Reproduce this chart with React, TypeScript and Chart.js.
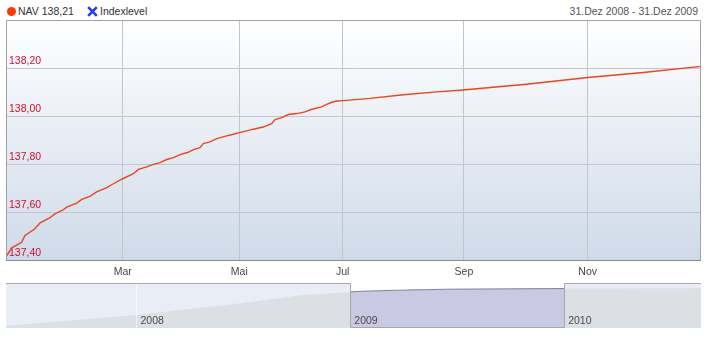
import React, { useEffect, useRef } from "react";
import { Chart, registerables } from "chart.js";
Chart.register(...registerables);

// ---- Main series (NAV 2009), x = day position on the axis (0 = 31.Dez 2008, 365 = 31.Dez 2009)
const navDays = [
  0, 3.0, 8.2, 10.0, 15.2, 17.9, 23.1, 25.7, 30.1, 31.9, 37.1, 39.8, 44.1, 47.6, 52.9, 55.5,
  61.3, 66.9, 69.5, 73.9, 77.4, 80.9, 84.4, 87.9, 91.4, 95.7, 98.4, 101.9, 103.6, 107.1,
  110.7, 115.9, 119.4, 122.5, 126.4, 129.9, 135.1, 139.5, 141.3, 144.8, 148.3, 152.7, 157.0,
  160.6, 165.8, 168.4, 171.1, 173.7, 177.1, 191.2, 208.7, 226.2, 238.4, 273.4, 305.5, 334.7, 365,
];
const navValues = [
  137.415, 137.453, 137.476, 137.504, 137.532, 137.557, 137.578, 137.594, 137.611, 137.622,
  137.639, 137.654, 137.667, 137.685, 137.703, 137.715, 137.74, 137.761, 137.779, 137.789,
  137.8, 137.807, 137.82, 137.828, 137.84, 137.85, 137.861, 137.869, 137.886, 137.893,
  137.907, 137.918, 137.925, 137.932, 137.939, 137.946, 137.955, 137.969, 137.986, 137.994,
  138.007, 138.011, 138.018, 138.029, 138.039, 138.049, 138.058, 138.063, 138.065, 138.074,
  138.089, 138.101, 138.108, 138.133, 138.161, 138.182, 138.207,
];
const monthTickDays = [61.3, 122.5, 176.8, 240.5, 305.5];
const monthLabels = ["Mar", "Mai", "Jul", "Sep", "Nov"];
const yTickValues = [137.4, 137.6, 137.8, 138.0, 138.2];
const yMin = 137.398;
const yMax = 138.4;

// ---- Navigator (years)
const navigatorYears2008 = [2007.39, 2008.0, 2008.49, 2008.77, 2009.0];
const navigatorValues2008 = [129.45, 132.03, 134.77, 136.64, 137.41];
const navigatorYears2010 = [2010.0, 2010.64];
const navigatorValues2010 = [138.21, 138.28];
const yearLines = [2008, 2009, 2010];
const yearLabels = ["2008", "2009", "2010"];
const selectedRange = [2009, 2010];
const navXMin = 2007.39;
const navXMax = 2010.64;
const navYMin = 129.0;
const navYMax = 139.5;

const FONT = "'Liberation Sans', Arial, sans-serif";

const plotDecor = {
  id: "plotDecor",
  beforeDraw(chart: any) {
    const { ctx, chartArea: a } = chart;
    const g = ctx.createLinearGradient(0, a.top, 0, a.bottom);
    g.addColorStop(0, "#ffffff");
    g.addColorStop(1, "#cfdae9");
    ctx.save();
    ctx.fillStyle = g;
    ctx.fillRect(a.left, a.top, a.right - a.left, a.bottom - a.top);
    ctx.restore();
  },
  afterDraw(chart: any) {
    const { ctx, chartArea: a } = chart;
    ctx.save();
    ctx.strokeStyle = "#a0a0a0";
    ctx.lineWidth = 1;
    ctx.beginPath();
    ctx.moveTo(a.left + 0.5, a.bottom);
    ctx.lineTo(a.left + 0.5, a.top + 0.5);
    ctx.lineTo(a.right - 0.5, a.top + 0.5);
    ctx.lineTo(a.right - 0.5, a.bottom);
    ctx.stroke();
    ctx.strokeStyle = "#8c8c8c";
    ctx.beginPath();
    ctx.moveTo(a.left, a.bottom - 0.5);
    ctx.lineTo(a.right, a.bottom - 0.5);
    ctx.stroke();
    ctx.restore();
  },
};

const navDecor = {
  id: "navDecor",
  beforeDatasetsDraw(chart: any) {
    const { ctx, chartArea: a, scales } = chart;
    const x = scales.x;
    const s0 = x.getPixelForValue(selectedRange[0]);
    const s1 = x.getPixelForValue(selectedRange[1]);
    ctx.save();
    ctx.fillStyle = "#ffffff";
    ctx.fillRect(a.left, a.top, a.right - a.left, a.bottom - a.top);
    ctx.fillStyle = "#e8edf6";
    ctx.fillRect(a.left, a.top, s0 - a.left, a.bottom - a.top);
    ctx.fillRect(s1, a.top, a.right - s1, a.bottom - a.top);
    ctx.restore();
  },
  afterDatasetsDraw(chart: any) {
    const { ctx, chartArea: a, scales } = chart;
    const x = scales.x;
    ctx.save();
    ctx.strokeStyle = "rgba(255,255,255,0.6)";
    ctx.lineWidth = 1;
    yearLines.forEach((yr) => {
      const px = Math.round(x.getPixelForValue(yr)) + 0.5;
      ctx.beginPath();
      ctx.moveTo(px, a.top);
      ctx.lineTo(px, a.bottom);
      ctx.stroke();
    });
    ctx.fillStyle = "#4a4a4a";
    ctx.font = `10.5px ${FONT}`;
    ctx.textBaseline = "middle";
    ctx.textAlign = "left";
    yearLines.forEach((yr, i) => {
      const px = x.getPixelForValue(yr);
      ctx.fillText(yearLabels[i], px + 4, a.bottom - 7);
    });
    const s0 = Math.round(x.getPixelForValue(selectedRange[0])) + 0.5;
    const s1 = Math.round(x.getPixelForValue(selectedRange[1])) + 0.5;
    ctx.strokeStyle = "#a8a8a8";
    ctx.beginPath();
    ctx.moveTo(a.left, a.top + 0.5);
    ctx.lineTo(s0, a.top + 0.5);
    ctx.lineTo(s0, a.bottom - 0.5);
    ctx.lineTo(s1, a.bottom - 0.5);
    ctx.lineTo(s1, a.top + 0.5);
    ctx.lineTo(a.right, a.top + 0.5);
    ctx.stroke();
    ctx.restore();
  },
};

export default function App() {
  const mainRef = useRef<HTMLCanvasElement>(null);
  const navRef = useRef<HTMLCanvasElement>(null);

  useEffect(() => {
    const main = new Chart(mainRef.current as HTMLCanvasElement, {
      type: "line",
      data: {
        datasets: [
          {
            label: "NAV",
            data: navDays.map((d, i) => ({ x: d, y: navValues[i] })),
            borderColor: "#e8461c",
            borderWidth: 1.4,
            pointRadius: 0,
            tension: 0,
            fill: false,
          },
        ],
      },
      options: {
        responsive: false,
        animation: false,
        events: [],
        layout: { padding: { left: 6, right: 10, top: 20, bottom: 0 } },
        plugins: { legend: { display: false }, tooltip: { enabled: false } },
        scales: {
          x: {
            type: "linear",
            min: 0,
            max: 365,
            afterFit: (s: any) => {
              s.height = 19;
            },
            afterBuildTicks: (s: any) => {
              s.ticks = monthTickDays.map((v) => ({ value: v }));
            },
            ticks: {
              autoSkip: false,
              maxRotation: 0,
              padding: 5,
              color: "#454545",
              font: { family: FONT, size: 10.5 },
              callback: (v: any) => {
                const i = monthTickDays.indexOf(Number(v));
                return i >= 0 ? monthLabels[i] : "";
              },
            },
            grid: { color: "#c2c6cc", drawTicks: false },
            border: { display: false },
          },
          y: {
            type: "linear",
            min: yMin,
            max: yMax,
            afterFit: (s: any) => {
              s.width = 0;
            },
            afterBuildTicks: (s: any) => {
              s.ticks = yTickValues.map((v) => ({ value: v }));
            },
            ticks: {
              mirror: true,
              autoSkip: false,
              padding: 3,
              labelOffset: -7,
              color: "#d0102c",
              font: { family: FONT, size: 10.5 },
              callback: (v: any) => Number(v).toFixed(2).replace(".", ","),
            },
            grid: { color: "#c2c6cc", drawTicks: false },
            border: { display: false },
          },
        },
      },
      plugins: [plotDecor],
    } as any);

    const nav2009X = navDays.map((d) => selectedRange[0] + d / 365);
    const nav = new Chart(navRef.current as HTMLCanvasElement, {
      type: "line",
      data: {
        datasets: [
          {
            data: navigatorYears2008.map((x, i) => ({ x, y: navigatorValues2008[i] })),
            borderWidth: 0,
            borderColor: "rgba(0,0,0,0)",
            backgroundColor: "#dcdfe3",
            fill: "start",
            pointRadius: 0,
          },
          {
            data: nav2009X.map((x, i) => ({ x, y: navValues[i] })),
            borderWidth: 1,
            borderColor: "#7c7cad",
            backgroundColor: "#c9c9e3",
            fill: "start",
            pointRadius: 0,
          },
          {
            data: navigatorYears2010.map((x, i) => ({ x, y: navigatorValues2010[i] })),
            borderWidth: 0,
            borderColor: "rgba(0,0,0,0)",
            backgroundColor: "#dcdfe3",
            fill: "start",
            pointRadius: 0,
          },
        ],
      },
      options: {
        responsive: false,
        animation: false,
        events: [],
        layout: { padding: { left: 6, right: 10, top: 0, bottom: 1 } },
        plugins: { legend: { display: false }, tooltip: { enabled: false } },
        scales: {
          x: { type: "linear", min: navXMin, max: navXMax, display: false },
          y: { type: "linear", min: navYMin, max: navYMax, display: false },
        },
      },
      plugins: [navDecor],
    } as any);

    return () => {
      main.destroy();
      nav.destroy();
    };
  }, []);

  const textStyle: React.CSSProperties = {
    position: "absolute",
    top: 5,
    fontFamily: FONT,
    fontSize: "10.5px",
    lineHeight: "13px",
    whiteSpace: "nowrap",
  };

  return (
    <div style={{ position: "absolute", left: 0, top: 0, width: 711, height: 350, background: "#fff" }}>
      <span
        style={{
          position: "absolute",
          left: 6.5,
          top: 7,
          width: 9,
          height: 9,
          borderRadius: "50%",
          background: "#ff3a00",
        }}
      />
      <span style={{ ...textStyle, left: 18, color: "#333" }}>NAV 138,21</span>
      <svg
        width={11}
        height={11}
        style={{ position: "absolute", left: 87, top: 6 }}
        viewBox="0 0 11 11"
      >
        <line x1={1.2} y1={1.2} x2={9.8} y2={9.8} stroke="#1f3cf0" strokeWidth={2.6} />
        <line x1={9.8} y1={1.2} x2={1.2} y2={9.8} stroke="#1f3cf0" strokeWidth={2.6} />
      </svg>
      <span style={{ ...textStyle, left: 100, color: "#333" }}>Indexlevel</span>
      <span style={{ ...textStyle, right: 13, color: "#555" }}>31.Dez 2008 - 31.Dez 2009</span>
      <canvas
        ref={mainRef}
        width={711}
        height={280}
        style={{ position: "absolute", left: 0, top: 0, width: 711, height: 280 }}
      />
      <canvas
        ref={navRef}
        width={711}
        height={46}
        style={{ position: "absolute", left: 0, top: 283, width: 711, height: 46 }}
      />
    </div>
  );
}
